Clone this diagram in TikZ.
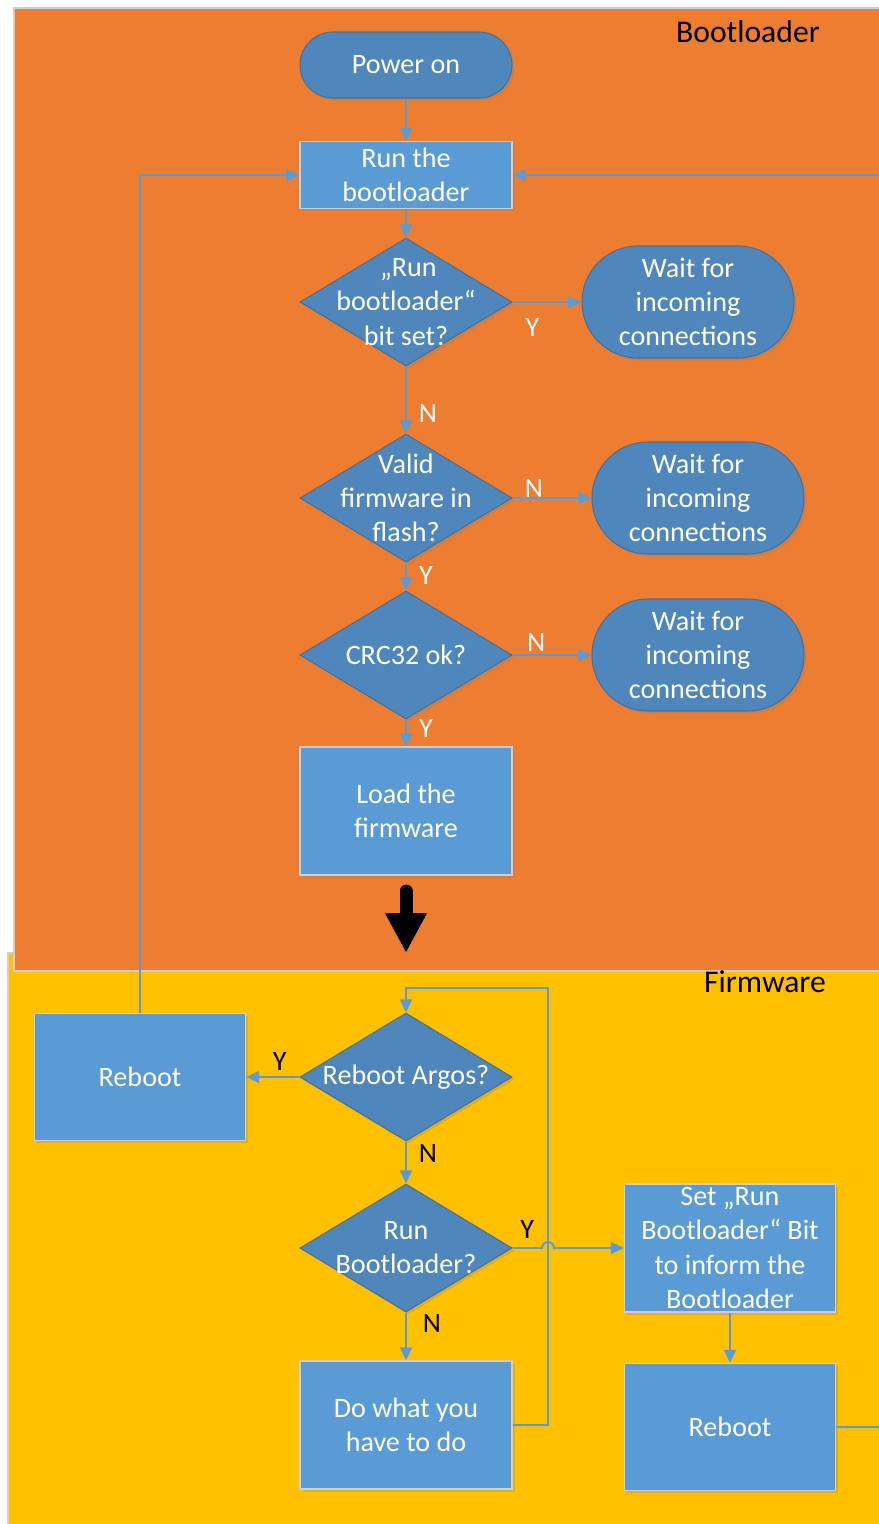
\documentclass[tikz,border=0pt]{standalone}
\usepackage{fontspec}
\setmainfont{Carlito}
\usepackage{tikz}
\usetikzlibrary{arrows.meta, shapes, shadows}
\definecolor{bgorange}{HTML}{ED7D31}
\definecolor{bgyellow}{HTML}{FFC000}
\definecolor{boxblue}{HTML}{5B9BD5}
\definecolor{termblue}{HTML}{4F87BC}
\definecolor{edgeblue}{HTML}{41719C}
\definecolor{panelgray}{HTML}{D0CECE}
\tikzset{
		boxfont/.style={font=\fontsize{16}{19.4}\selectfont},
		panel/.style={draw=panelgray, line width=0.8pt},
		panel label/.style={font=\fontsize{18}{22}\selectfont, text=black},
		soft shadow/.style={drop shadow={shadow xshift=0.05cm, shadow yshift=-0.05cm, opacity=0.25}},
		process/.style={rectangle, draw=panelgray, fill=boxblue, line width=0.8pt, text=white, align=center, boxfont,
			minimum width=4.24cm, minimum height=2.56cm, inner sep=0pt, soft shadow},
		terminal/.style={rectangle, rounded corners=1.12cm, draw=edgeblue, fill=termblue, line width=0.6pt, text=white,
			align=center, boxfont, minimum width=4.24cm, minimum height=2.24cm, inner sep=0pt, soft shadow},
		decision/.style={diamond, draw=edgeblue, fill=termblue, line width=0.6pt, minimum width=4.24cm,
			minimum height=2.56cm, inner sep=0pt, soft shadow},
		dtext/.style={text=white, align=center, boxfont},
		link/.style={draw=boxblue, line width=1.1pt},
		yn/.style={text=white, boxfont},
		ynb/.style={text=black, boxfont},
		bigarrow/.style={line width=0.26cm, line cap=round, -{Triangle[length=0.8cm,width=0.78cm]}}
	}

\begin{document}
\begin{tikzpicture}[>={Triangle[length=0.26cm,width=0.24cm]}, every edge/.style={link, draw}]
	\useasboundingbox (0,0) rectangle (17.58,-30.48);

	% panels
	\path[panel, fill=bgyellow] (0.16,-19.06) rectangle (17.80,-30.70);
	\path[panel, fill=bgorange] (0.28,-0.16) rectangle (17.80,-19.42);
	\node[panel label] (blabel) at (14.96,-0.64) {Bootloader};
	\node[panel label] (flabel) at (15.30,-19.64) {Firmware};

	% bootloader part
	\node[terminal, rounded corners=0.66cm, minimum height=1.32cm] (pwr) at (8.12,-1.30) {Power on};
	\node[process, minimum height=1.34cm] (runbl) at (8.12,-3.50) {Run the\\bootloader};
	\node[decision, label={[dtext]center:{\,„Run\\bootloader“\\bit set?}}] (d1) at (8.12,-6.04) {};
	\node[terminal] (w1) at (13.76,-6.04) {Wait for\\incoming\\connections};
	\node[decision, label={[dtext]center:{Valid\\firmware in\\flash?}}] (d2) at (8.12,-9.96) {};
	\node[terminal] (w2) at (13.96,-9.96) {Wait for\\incoming\\connections};
	\node[decision, label={[dtext]center:{CRC32 ok?}}] (d3) at (8.12,-13.10) {};
	\node[terminal] (w3) at (13.96,-13.10) {Wait for\\incoming\\connections};
	\node[process] (load) at (8.12,-16.22) {Load the\\firmware};
	\coordinate (bs) at (8.12,-17.82);
	\coordinate (be) at (8.12,-19.06);

	% firmware part
	\node[decision, label={[dtext]center:{Reboot Argos?}}] (ra) at (8.12,-21.54) {};
	\node[process, minimum width=4.22cm, minimum height=2.54cm] (rbl) at (2.80,-21.54) {Reboot};
	\node[decision, label={[dtext]center:{Run\\Bootloader?}}] (rb) at (8.12,-24.96) {};
	\node[process, minimum width=4.22cm] (set) at (14.60,-24.96) {Set „Run\\Bootloader“ Bit\\to inform the\\Bootloader};
	\node[process] (dw) at (8.12,-28.50) {Do what you\\have to do};
	\node[process, minimum width=4.22cm, minimum height=2.54cm] (rbr) at (14.60,-28.54) {Reboot};
	\coordinate (lp) at (10.96,-19.76);
	\coordinate (rx) at (17.70,-10);

	\path[->] (pwr) edge (runbl);
	\path[->] (runbl) edge (d1);
	\path[->] (d1) edge node[yn, pos=0.29, yshift=-0.5cm] {Y} (w1);
	\path[->] (d1) edge node[yn, pos=0.7, xshift=0.44cm] {N} (d2);
	\path[->] (d2) edge node[yn, pos=0.27, yshift=0.2cm] {N} (w2);
	\path[->] (d2) edge node[yn, pos=0.45, xshift=0.4cm] {Y} (d3);
	\path[->] (d3) edge node[yn, pos=0.3, yshift=0.26cm] {N} (w3);
	\path[->] (d3) edge node[yn, pos=0.32, xshift=0.4cm] {Y} (load);
	\draw[bigarrow] (bs) -- (be);

	\path[->] (ra) edge node[ynb, pos=0.37, yshift=0.32cm] {Y} (rbl);
	\path[->] (ra) edge node[ynb, pos=0.28, xshift=0.44cm] {N} (rb);
	\path[->] (rb) edge node[ynb, pos=0.22, xshift=0.52cm] {N} (dw);
	\path[->] (set) edge (rbr);
	\draw[link, ->] (rb.east) -- node[ynb, yshift=0.38cm] {Y} ([xshift=-0.12cm]lp |- rb.east)
		arc[start angle=180, end angle=0, radius=0.12cm] -- (set.west);
	\draw[link, ->] (dw.east) -| (lp) -| (ra.north);
	\draw[link, ->] (rbl.north) |- (runbl.west);
	\draw[link, ->] (rbr.east) -| (rx) |- (runbl.east);
\end{tikzpicture}
\end{document}
